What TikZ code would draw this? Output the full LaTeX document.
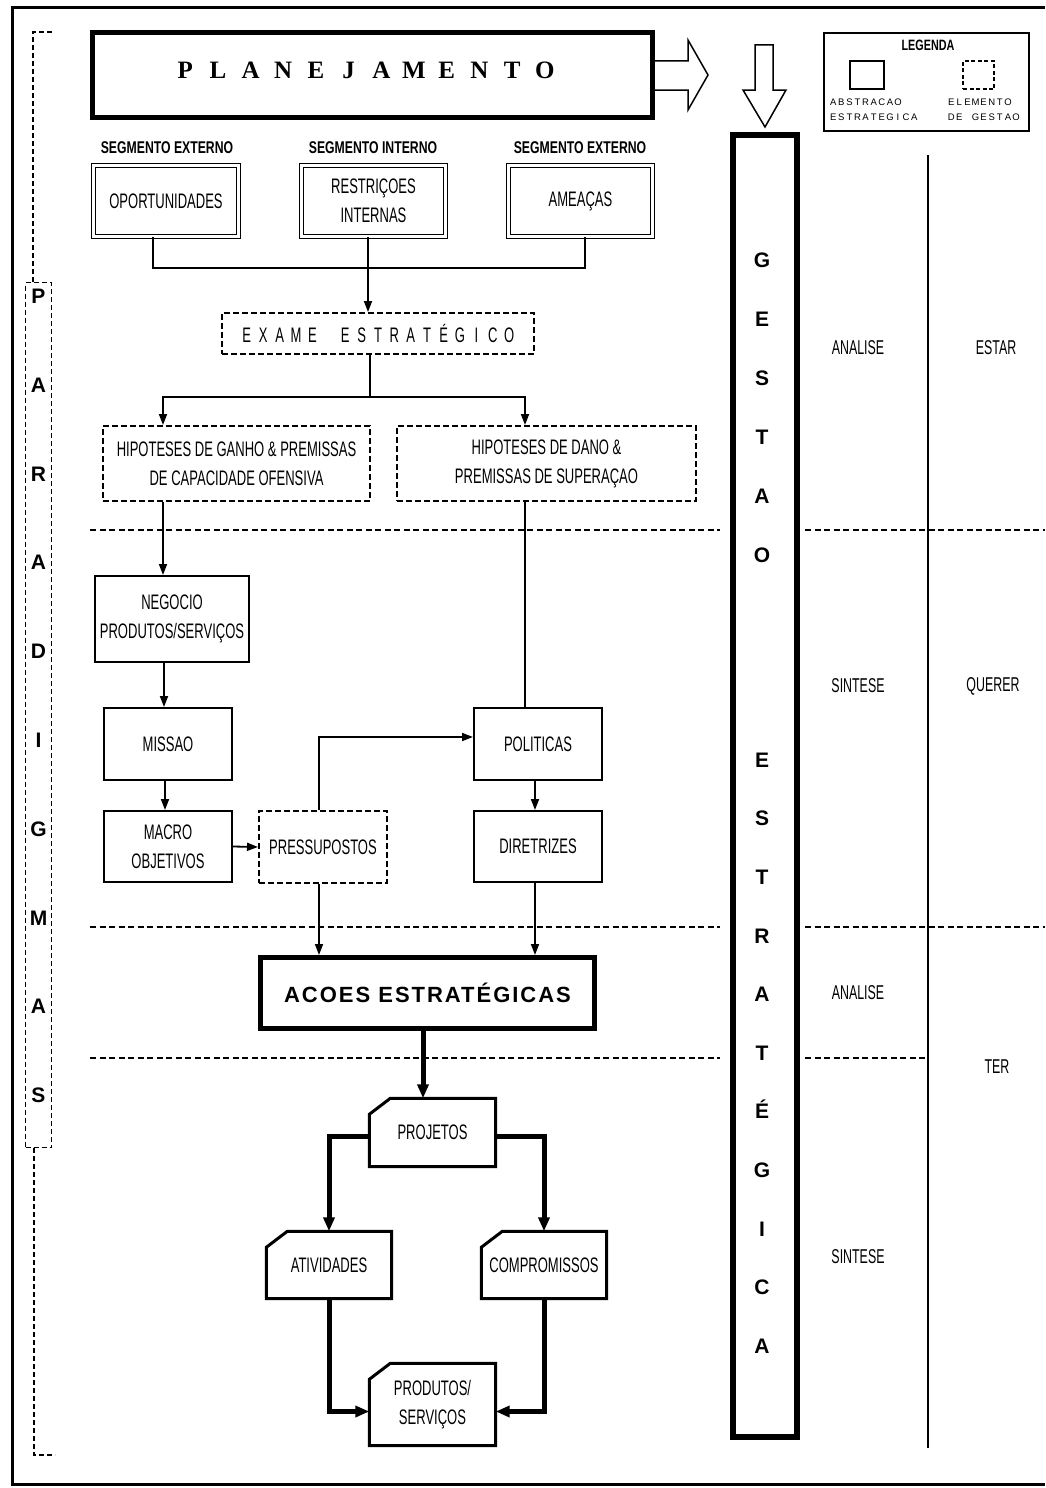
\documentclass[tikz,border=0pt]{standalone}
\usepackage{fontspec}
\setmainfont{Liberation Sans}
\newfontfamily\cond[FakeStretch=0.62]{Liberation Sans}
\newfontfamily\condb[FakeStretch=0.72]{Liberation Sans}
\newfontfamily\serifb{Liberation Serif}
\usetikzlibrary{arrows.meta,calc}
\makeatletter
\newcommand\spreadit[2]{\@tfor\sp@tok:=#2\do{\makebox[#1]{\sp@tok}}}
\makeatother
\tikzset{
  txt/.style={inner sep=0pt, align=center, font=\cond\fontsize{21}{29}\selectfont},
  solidbox/.style={txt, draw, line width=2pt},
  dashbox/.style={txt, draw, line width=2pt, dash pattern=on 6pt off 3pt},
  dblbox/.style={txt, draw, line width=1.5pt, double, double distance=2.5pt},
  heavybox/.style={txt, draw, line width=5pt},
  cardtxt/.style={txt},
  cardline/.style={line width=3pt, line join=miter},
  seglab/.style={inner sep=0pt, font=\condb\bfseries\fontsize{17}{17}\selectfont},
  collab/.style={inner sep=0pt, font=\cond\fontsize{20}{20}\selectfont},
  conn/.style={line width=1.8pt},
  arr/.style={conn, -{Triangle[length=11pt,width=8pt]}},
  thk/.style={line width=5pt},
  thkarr/.style={thk, -{Triangle[length=14pt,width=11pt]}},
  divider/.style={line width=1.3pt, dash pattern=on 6pt off 3.5pt},
  pdash/.style={line width=1.5pt, dash pattern=on 5pt off 3pt},
  bigletters/.style={inner sep=0pt, align=center}
}
\newcommand\cardoutline[1]{\draw[cardline] ([yshift=-16pt]#1.north west) -- ([xshift=21pt]#1.north west) -- (#1.north east) -- (#1.south east) -- (#1.south west) -- cycle;}
\begin{document}
\begin{tikzpicture}[x=1pt,y=-1pt]
\fill[white] (0,0) rectangle (1045,1488);
\useasboundingbox (0,0) rectangle (1045,1488);

% outer frame
\draw[line width=3pt] (1045,8) -- (12,8) -- (12,1484) -- (1045,1484);

% PLANEJAMENTO
\node[heavybox, minimum width=560pt, minimum height=85pt] (plan) at (372.5,75) {};
\node[inner sep=0pt, font=\serifb\bfseries\fontsize{25}{25}\selectfont] (plantxt) at (365,70) {\spreadit{32.7pt}{PLANEJAMENTO}};

% hollow arrows
\draw[line width=1.5pt, line join=miter] (655,61) -- (688,61) -- (688,40) -- (708,75) -- (688,110) -- (688,90) -- (655,90);
\draw[line width=1.5pt, line join=miter] (755,45) -- (773,45) -- (773,90) -- (786,90) -- (765,127) -- (743,90) -- (755,90) -- cycle;

% GESTAO ESTRATEGICA
\node[draw, line width=6pt, minimum width=64pt, minimum height=1302pt] (gest) at (765,786) {};
\node[bigletters, font=\bfseries\fontsize{21}{59}\selectfont] (gestA) at (762,407.5) {G\\E\\S\\T\\A\\O};
\node[bigletters, font=\bfseries\fontsize{21}{58.6}\selectfont] (gestB) at (762,1053) {E\\S\\T\\R\\A\\T\\É\\G\\I\\C\\A};

% legend
\node[draw, line width=1.5pt, minimum width=205pt, minimum height=98pt] (leg) at (926.5,82) {};
\node[inner sep=0pt, font=\condb\bfseries\fontsize{15}{15}\selectfont] (legt) at (928,45) {LEGENDA};
\node[draw, line width=1.8pt, minimum width=34pt, minimum height=28pt] (legs) at (867,75) {};
\node[draw, line width=1.5pt, dash pattern=on 4pt off 2.5pt, minimum width=31pt, minimum height=28pt] (legd) at (978.5,75) {};
\node[anchor=west, inner sep=0pt, align=left, font=\fontsize{9.5}{15}\selectfont] (legl1) at (829,109.5) {\spreadit{8.1pt}{ABSTRACAO}\\\spreadit{8.1pt}{ESTRATEGICA}};
\node[anchor=west, inner sep=0pt, align=left, font=\fontsize{9.5}{15}\selectfont] (legl2) at (947,109.5) {\spreadit{8.1pt}{ELEMENTO}\\\spreadit{8.1pt}{DE~GESTAO}};

% right columns
\draw[line width=2pt] (928,155) -- (928,1448);
\node[collab] (c1) at (858,348) {ANALISE};
\node[collab] (c2) at (996,348) {ESTAR};
\node[collab] (c3) at (858,686) {SINTESE};
\node[collab] (c4) at (993,686) {QUERER};
\node[collab] (c5) at (858,993) {ANALISE};
\node[collab] (c6) at (997,1067) {TER};
\node[collab] (c7) at (858,1257) {SINTESE};

% dividers
\draw[divider] (90,530) -- (720,530);
\draw[divider] (805,530) -- (1045,530);
\draw[divider] (90,927) -- (720,927);
\draw[divider] (805,927) -- (1045,927);
\draw[divider] (90,1058) -- (720,1058);
\draw[divider] (805,1058) -- (925,1058);

% PARADIGMAS
\draw[pdash] (52,32) -- (33,32) -- (33,282);
\node[draw, pdash, minimum width=26pt, minimum height=865pt] (parbox) at (38.5,715) {};
\draw[pdash] (34,1148) -- (34,1455) -- (55,1455);
\node[bigletters, font=\bfseries\fontsize{21}{88.8}\selectfont] (pdg) at (38.5,696) {P\\A\\R\\A\\D\\I\\G\\M\\A\\S};

% segment labels
\node[seglab] (sl1) at (167,148) {SEGMENTO EXTERNO};
\node[seglab] (sl2) at (373,148) {SEGMENTO INTERNO};
\node[seglab] (sl3) at (580,148) {SEGMENTO EXTERNO};

% top boxes
\node[dblbox, minimum width=145pt, minimum height=71pt] (opp) at (166,201) {OPORTUNIDADES};
\node[dblbox, minimum width=144pt, minimum height=71pt] (rest) at (373.5,201) {RESTRIÇOES\\INTERNAS};
\node[dblbox, minimum width=144pt, minimum height=71pt] (ame) at (580.5,201) {AMEAÇAS};

\node[dashbox, minimum width=312pt, minimum height=41pt] (exame) at (378,333.5) {\spreadit{16.4pt}{EXAME~ESTRATÉGICO}};
\node[dashbox, minimum width=267pt, minimum height=75pt] (ganho) at (236.5,463.5) {HIPOTESES DE GANHO \& PREMISSAS\\DE CAPACIDADE OFENSIVA};
\node[dashbox, minimum width=299pt, minimum height=75pt] (dano) at (546.5,463.5) {HIPOTESES DE DANO \&\\PREMISSAS DE SUPERAÇAO};

\node[solidbox, minimum width=154pt, minimum height=86pt] (neg) at (172,619) {NEGOCIO\\PRODUTOS/SERVIÇOS};
\node[solidbox, minimum width=128pt, minimum height=72pt] (miss) at (168,744) {MISSAO};
\node[solidbox, minimum width=128pt, minimum height=71pt] (macro) at (168,846.5) {MACRO\\OBJETIVOS};
\node[dashbox, minimum width=128pt, minimum height=72pt] (press) at (323,847) {PRESSUPOSTOS};
\node[solidbox, minimum width=128pt, minimum height=72pt] (pol) at (538,744) {POLITICAS};
\node[solidbox, minimum width=128pt, minimum height=71pt] (dir) at (538,846.5) {DIRETRIZES};

\node[heavybox, minimum width=334pt, minimum height=71pt, font=\bfseries\fontsize{22}{22}\selectfont\addfontfeature{LetterSpace=9}] (acoes) at (427.5,993) {ACOES ESTRATÉGICAS};

% cards
\node[cardtxt, minimum width=126pt, minimum height=68pt] (proj) at (432.5,1132.5) {PROJETOS};
\node[cardtxt, minimum width=125pt, minimum height=67pt] (ativ) at (329,1265) {ATIVIDADES};
\node[cardtxt, minimum width=125pt, minimum height=67pt] (comp) at (544,1265) {COMPROMISSOS};
\node[cardtxt, minimum width=126pt, minimum height=82pt] (prod) at (432.5,1404.5) {PRODUTOS/\\SERVIÇOS};
\cardoutline{proj}
\cardoutline{ativ}
\cardoutline{comp}
\cardoutline{prod}

% connectors
\draw[conn] ([xshift=-13pt]opp.south) -- ++(0,31) -| ([xshift=4.5pt]ame.south);
\draw[arr] ([xshift=-5.5pt]rest.south) -- ([xshift=-10pt]exame.north);
\draw[conn] ([xshift=-8pt]exame.south) -- ++(0,42) coordinate (je);
\draw[arr] (je) -| ([xshift=-73.5pt]ganho.north);
\draw[arr] (je) -| ([xshift=-21.5pt]dano.north);
\draw[arr] ([xshift=-73.5pt]ganho.south) -- ([xshift=-9pt]neg.north);
\draw[arr] ([xshift=-8pt]neg.south) -- ([xshift=-4pt]miss.north);
\draw[arr] ([xshift=-3pt]miss.south) -- ([xshift=-3pt]macro.north);
\draw[arr] (macro.east) -- (press.west);
\draw[arr] ([xshift=-4pt]press.north) |- ([yshift=7pt]pol.west);
\draw[conn] ([xshift=-21.5pt]dano.south) -- ([xshift=-13pt]pol.north);
\draw[arr] ([xshift=-3pt]pol.south) -- ([xshift=-3pt]dir.north);
\draw[arr] ([xshift=-4pt]press.south) -- ([xshift=-108.5pt]acoes.north);
\draw[arr] ([xshift=-3pt]dir.south) -- ([xshift=107.5pt]acoes.north);
\draw[thkarr] ([xshift=-4.5pt]acoes.south) -- ([xshift=-9.5pt]proj.north);
\draw[thkarr] ([yshift=-4pt]proj.west) -| (ativ.north);
\draw[thkarr] ([yshift=-4pt]proj.east) -| (comp.north);
\draw[thkarr] (ativ.south) |- ([yshift=-7pt]prod.west);
\draw[thkarr] (comp.south) |- ([yshift=-7pt]prod.east);
\end{tikzpicture}
\end{document}
